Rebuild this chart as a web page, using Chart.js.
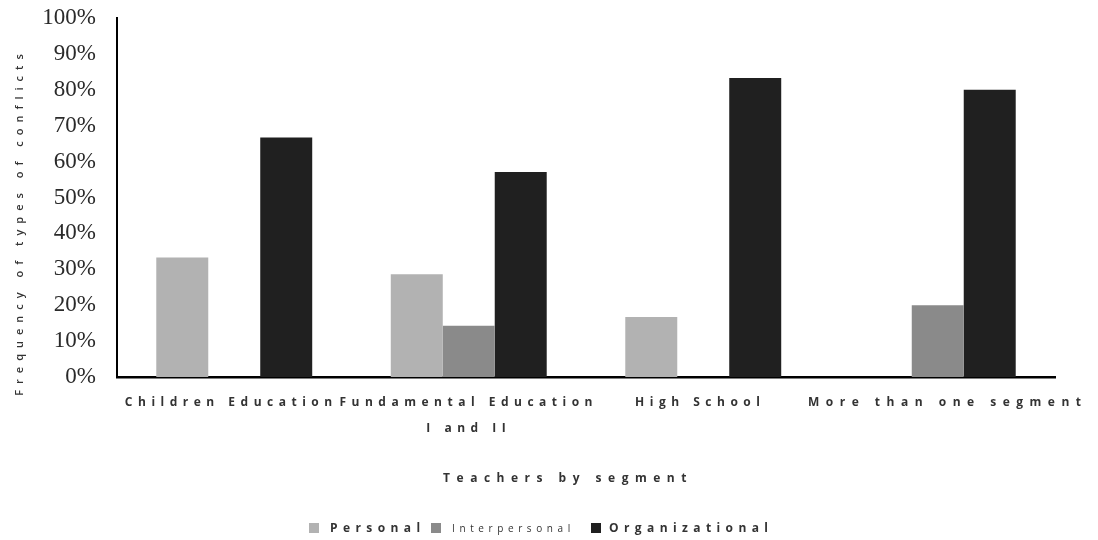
<!DOCTYPE html>
<html lang="en">
<head>
    <meta charset="UTF-8">
    <title>Types of conflicts by segment</title>
    <script src="https://cdn.jsdelivr.net/npm/chart.js"></script>
    <style>
        body { margin: 0; background: #fff; }
        #wrap { width: 1098px; height: 540px; }
    </style>
</head>
<body>
    <div id="wrap"><canvas id="chart" width="1098" height="540"></canvas></div>

    <script>
        // categories (multi-line labels as arrays)
        const categories = [
            ['Children Education'],
            ['Fundamental Education', 'I and II'],
            ['High School'],
            ['More than one segment']
        ];
        const seriesNames = ['Personal', 'Interpersonal', 'Organizational'];
        const personal = [33.3, 28.6, 16.7, 0];
        const interpersonal = [0, 14.3, 0, 20];
        const organizational = [66.7, 57.1, 83.3, 80];
        const yTickValues = [0, 10, 20, 30, 40, 50, 60, 70, 80, 90, 100];

        const colors = ['#b2b2b2', '#8a8a8a', '#202020'];
        const textColor = '#333';

        // draws the spaced-out texts: category labels, axis titles, legend
        const spacedText = {
            id: 'spacedText',
            afterDraw(chart) {
                const ctx = chart.ctx;
                const x = chart.scales.x;
                ctx.save();
                ctx.fillStyle = textColor;
                ctx.textBaseline = 'middle';

                // category labels (last one is spread wider in the original)
                ctx.font = 'bold 12px "Open Sans"';
                ctx.textAlign = 'center';
                const nudge = [-3, 0, -3, 10];
                const spacing = ['5.5px', '5.5px', '5.5px', '6.5px'];
                categories.forEach((lines, i) => {
                    const cx = x.getPixelForValue(i) + nudge[i];
                    ctx.letterSpacing = spacing[i];
                    lines.forEach((line, j) => {
                        ctx.fillText(line, cx, 403 + j * 26);
                    });
                });

                // x title
                ctx.letterSpacing = '6.5px';
                ctx.fillText('Teachers by segment', 568, 479);

                // y title
                ctx.save();
                ctx.translate(20, 222);
                ctx.rotate(-Math.PI / 2);
                ctx.font = '600 11px "Open Sans"';
                ctx.letterSpacing = '6px';
                ctx.fillText('Frequency of types of conflicts', 0, 0);
                ctx.restore();

                // legend
                const legend = [
                    { sq: 309, tx: 330, font: 'bold 12px "Open Sans"', sp: '5.4px' },
                    { sq: 431, tx: 452, font: '10px "Open Sans"', sp: '4.6px' },
                    { sq: 591, tx: 609, font: 'bold 12px "Open Sans"', sp: '5.4px' }
                ];
                ctx.textAlign = 'left';
                legend.forEach((l, i) => {
                    ctx.fillStyle = colors[i];
                    ctx.fillRect(l.sq, 523, 10, 10);
                    ctx.fillStyle = textColor;
                    ctx.font = l.font;
                    ctx.letterSpacing = l.sp;
                    ctx.fillText(seriesNames[i], l.tx, 529);
                });
                ctx.restore();
            }
        };

        const datasets = [personal, interpersonal, organizational].map((data, i) => ({
            label: seriesNames[i],
            data: data,
            backgroundColor: colors[i],
            borderWidth: 0,
            barPercentage: 1,
            categoryPercentage: 0.665
        }));

        new Chart(document.getElementById('chart').getContext('2d'), {
            type: 'bar',
            data: { labels: categories, datasets: datasets },
            options: {
                responsive: false,
                animation: false,
                layout: { padding: { top: 18, right: 43, bottom: 0, left: 0 } },
                plugins: {
                    legend: { display: false },
                    tooltip: { enabled: false }
                },
                scales: {
                    x: {
                        grid: { display: false, drawTicks: false },
                        border: { display: true, color: '#000', width: 2.5 },
                        ticks: { display: false },
                        afterFit: s => { s.height = 163; }
                    },
                    y: {
                        min: 0,
                        max: 100,
                        afterBuildTicks: s => { s.ticks = yTickValues.map(v => ({ value: v })); },
                        grid: { display: false, drawTicks: false },
                        border: { display: true, color: '#000', width: 2 },
                        ticks: {
                            padding: 21,
                            color: '#2a2a2a',
                            font: { family: '"Liberation Serif"', size: 23 },
                            callback: v => v + '%'
                        },
                        afterFit: s => {
                            s.width = 117;
                            s.paddingTop = 0;
                            s.paddingBottom = 0;
                        }
                    }
                }
            },
            plugins: [spacedText]
        });
    </script>
</body>
</html>
